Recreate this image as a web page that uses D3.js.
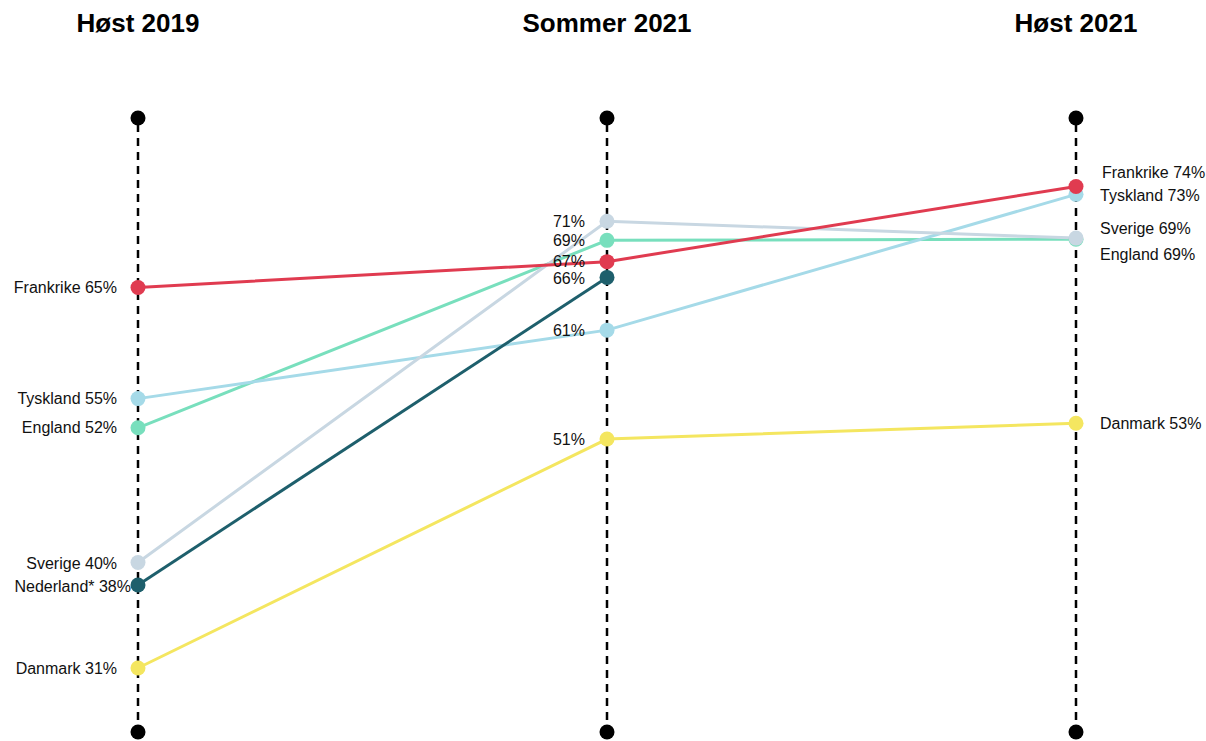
<!DOCTYPE html>
<html>
<head>
<meta charset="utf-8">
<script src="https://cdn.jsdelivr.net/npm/d3@7"></script>
<style>
  html, body { margin: 0; padding: 0; background: #fff; }
  svg { display: block; font-family: "Liberation Sans", Arial, sans-serif; }
</style>
</head>
<body>
<svg id="chart" width="1206" height="741"></svg>
<script>
// ---- data ----
const periods = ["Høst 2019", "Sommer 2021", "Høst 2021"];
const countries = ["Danmark", "England", "Tyskland", "Sverige", "Nederland*", "Frankrike"];
const danmark   = [31.0, 51.4, 52.8];
const england   = [52.4, 69.1, 69.2];
const tyskland  = [55.0, 61.1, 73.2];
const sverige   = [40.4, 70.8, 69.3];
const nederland = [38.4, 65.8, null];
const frankrike = [64.9, 67.2, 73.9];
const seriesValues = [danmark, england, tyskland, sverige, nederland, frankrike];
const yDomain = [25.3, 80];

// ---- styles ----
const colors = {
  "Danmark": "#f4e660",
  "England": "#78dfbd",
  "Tyskland": "#a5dae8",
  "Sverige": "#c8d7e2",
  "Nederland*": "#1e5f6c",
  "Frankrike": "#e03b50"
};
// label nudges (dx, dy) to avoid overlaps
const nudge = {
  "0|Nederland*": [14, 1],
  "0|Sverige": [0, 1],
  "1|Nederland*": [0, 1],
  "2|Frankrike": [2, -14.5],
  "2|Tyskland": [0, 0.7],
  "2|Sverige": [0, -10],
  "2|England": [0, 15]
};

const svg = d3.select("#chart");
const x = d3.scalePoint().domain(periods).range([138, 1076]);
const y = d3.scaleLinear().domain(yDomain).range([732, 118]);

const data = countries.map((c, i) => ({
  name: c,
  points: periods.map((p, j) => ({ period: p, j, value: seriesValues[i][j] }))
                 .filter(d => d.value !== null)
}));

// column titles
svg.append("g").selectAll("text").data(periods).join("text")
  .attr("x", d => x(d)).attr("y", 32)
  .attr("text-anchor", "middle")
  .attr("font-weight", "bold").attr("font-size", 26)
  .attr("fill", "#000")
  .text(d => d);

// vertical dashed axes
const axes = svg.append("g");
axes.selectAll("line").data(periods).join("line")
  .attr("x1", d => x(d)).attr("x2", d => x(d))
  .attr("y1", y(yDomain[1])).attr("y2", y(yDomain[0]))
  .attr("stroke", "#000").attr("stroke-width", 2.5)
  .attr("stroke-dasharray", "8,6").attr("stroke-dashoffset", -6);
axes.selectAll("circle.top").data(periods).join("circle")
  .attr("class", "top")
  .attr("cx", d => x(d)).attr("cy", y(yDomain[1])).attr("r", 7.5).attr("fill", "#000");
axes.selectAll("circle.bot").data(periods).join("circle")
  .attr("class", "bot")
  .attr("cx", d => x(d)).attr("cy", y(yDomain[0])).attr("r", 7.5).attr("fill", "#000");

// lines
const line = d3.line().x(d => x(d.period)).y(d => y(d.value));
svg.append("g").selectAll("path").data(data).join("path")
  .attr("d", d => line(d.points))
  .attr("fill", "none")
  .attr("stroke", d => colors[d.name])
  .attr("stroke-width", 3);

// dots
const dotG = svg.append("g");
data.forEach(s => {
  dotG.selectAll(null).data(s.points).join("circle")
    .attr("cx", d => x(d.period)).attr("cy", d => y(d.value))
    .attr("r", 7.5).attr("fill", colors[s.name]);
});

// labels
const labG = svg.append("g").attr("font-size", 16).attr("fill", "#111");
data.forEach(s => {
  s.points.forEach(d => {
    const key = d.j + "|" + s.name;
    const [ndx, ndy] = nudge[key] || [0, 0];
    const pct = Math.round(d.value) + "%";
    let txt, anchor, dx;
    if (d.j === 0) { txt = s.name + " " + pct; anchor = "end"; dx = -21; }
    else if (d.j === 1) { txt = pct; anchor = "end"; dx = -22; }
    else { txt = s.name + " " + pct; anchor = "start"; dx = 24; }
    labG.append("text")
      .attr("x", x(d.period) + dx + ndx)
      .attr("y", y(d.value) + ndy)
      .attr("dy", "0.35em")
      .attr("text-anchor", anchor)
      .text(txt);
  });
});
</script>
</body>
</html>
